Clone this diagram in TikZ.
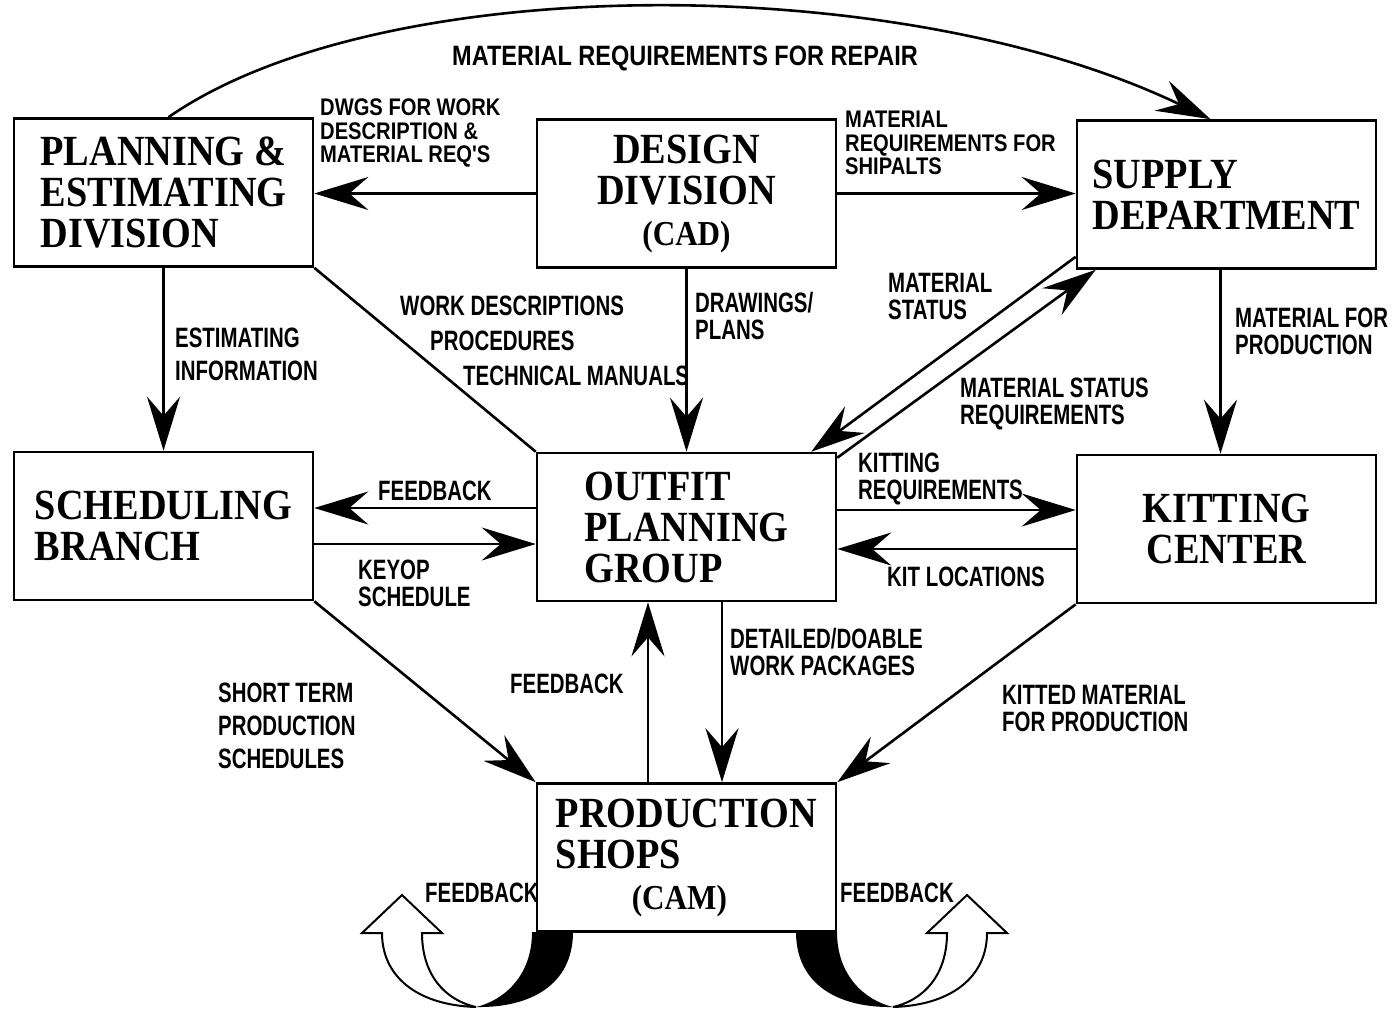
\documentclass[tikz,border=0pt]{standalone}
\usepackage{fontspec}
\usepackage{tikz}
\usetikzlibrary{arrows.meta}
\newfontfamily\cajafont[FakeStretch=0.89]{Liberation Serif}
\newfontfamily\rotulofont[FakeStretch=0.73]{Liberation Sans}
\newfontfamily\anchofont[FakeStretch=0.84]{Liberation Sans}
\newfontfamily\repairfont[FakeStretch=0.84]{Liberation Sans}
\definecolor{tinta}{RGB}{0, 0, 0}
\tikzset{
	caja/.style={draw=tinta, line width=2.6pt, minimum width=299pt, minimum height=148pt, inner sep=0pt, text=tinta, font=\cajafont\bfseries\fontsize{43}{41}\selectfont},
	rotulo/.style={inner sep=0pt, anchor=north west, align=left, text=tinta, font=\rotulofont\bfseries\fontsize{28}{27}\selectfont},
	chico/.style={font=\anchofont\bfseries\fontsize{24}{23.5}\selectfont},
	flecha/.style={draw=tinta, line width=2.6pt, -{Stealth[length=54pt, width=33pt, inset=19pt]}},
	linea/.style={draw=tinta, line width=2.6pt}
}
\newcommand{\lazo}{%
	\fill[tinta] (573,932) .. controls (573,985) and (530,1008) .. (476,1007) .. controls (505,1000) and (532,975) .. (532,932) -- cycle;
	\filldraw[fill=white, draw=tinta, line width=2pt] (476,1007) .. controls (415,1005) and (382,975) .. (382,933) -- (362,933) -- (402,895) -- (442,933) -- (422,933) .. controls (422,975) and (445,1000) .. (476,1007) -- cycle;
}

\begin{document}
\begin{tikzpicture}[x=1pt, y=-1pt]
					\useasboundingbox (0,0) rectangle (1396,1012);
					% Cajas
					\node[caja, align=left] (planning) at (163.5,192.5) {PLANNING \&\\ESTIMATING\\DIVISION};
					\node[caja, align=center] (design) at (686.5,193.5) {DESIGN\\DIVISION\\{\fontsize{35}{36}\selectfont(CAD)}};
					\node[caja, align=left] (supply) at (1226.5,194.5) {SUPPLY\\DEPARTMENT};
					\node[caja, align=left] (scheduling) at (163.5,526) {SCHEDULING\\BRANCH};
					\node[caja, align=left] (outfit) at (686.5,527) {OUTFIT\\PLANNING\\GROUP};
					\node[caja, align=center] (kitting) at (1226.5,529) {KITTING\\CENTER};
					\node[caja, align=left] (production) at (686.5,857.5) {PRODUCTION\\SHOPS\\\hspace*{76pt}{\fontsize{35}{36}\selectfont(CAM)}};
					% Flechas
					\draw[flecha] ([xshift=5pt]planning.north) .. controls (380,-30) and (900,-30) .. ([xshift=-16pt]supply.north);
					\draw[flecha] (design.west) -- (design.west -| planning.east);
					\draw[flecha] (design.east) -- (design.east -| supply.west);
					\draw[flecha] (planning.south) -- (planning.south |- scheduling.north);
					\draw[linea] (planning.south east) -- (outfit.north west);
					\draw[flecha] (design.south) -- (design.south |- outfit.north);
					\draw[flecha] ([yshift=13pt]supply.south west) -- ([xshift=-26pt]outfit.north east);
					\draw[flecha] ([yshift=-6pt]outfit.north east) -- ([xshift=20pt]supply.south west);
					\draw[flecha] ([xshift=-6pt]supply.south) -- ([xshift=-6pt]supply.south |- kitting.north);
					\draw[flecha] ([yshift=19pt]outfit.west) -- ([yshift=19pt]outfit.west -| scheduling.east);
					\draw[flecha] ([yshift=-18pt]scheduling.east) -- ([yshift=-18pt]scheduling.east -| outfit.west);
					\draw[flecha] ([yshift=17pt]outfit.east) -- ([yshift=17pt]outfit.east -| kitting.west);
					\draw[flecha] ([yshift=-20pt]kitting.west) -- ([yshift=-20pt]kitting.west -| outfit.east);
					\draw[flecha] (scheduling.south east) -- (production.north west);
					\draw[flecha] ([xshift=-38.5pt]production.north) -- ([xshift=-38.5pt]outfit.south);
					\draw[flecha] ([xshift=35.5pt]outfit.south) -- ([xshift=35.5pt]production.north);
					\draw[flecha] (kitting.south west) -- (production.north east);
					% Lazos de retroalimentacion
					\lazo
					\begin{scope}[shift={(1369,0)}, xscale=-1]
						\lazo
					\end{scope}
					% Rotulos
					\node[rotulo, anchor=center, font=\repairfont\bfseries\fontsize{28}{27}\selectfont] (repair) at (685,58) {MATERIAL REQUIREMENTS FOR REPAIR};
					\node[rotulo, chico] (dwgs) at (320,99) {DWGS FOR WORK\\DESCRIPTION \&\\MATERIAL REQ'S};
					\node[rotulo, chico] (shipalts) at (845,111) {MATERIAL\\REQUIREMENTS FOR\\SHIPALTS};
					\node[rotulo] (estimating) at (175,328) {ESTIMATING\\[6pt]INFORMATION};
					\node[rotulo] (workdesc) at (400,296) {WORK DESCRIPTIONS\\[8pt]\hspace*{30pt}PROCEDURES\\[8pt]\hspace*{63pt}TECHNICAL MANUALS};
					\node[rotulo] (drawings) at (695,292) {DRAWINGS/\\PLANS};
					\node[rotulo] (matstatus) at (888,273) {MATERIAL\\STATUS};
					\node[rotulo] (matstatusreq) at (960,378) {MATERIAL STATUS\\REQUIREMENTS};
					\node[rotulo] (matprod) at (1235,308) {MATERIAL FOR\\PRODUCTION};
					\node[rotulo] (fbsched) at (378,481) {FEEDBACK};
					\node[rotulo] (keyop) at (358,560) {KEYOP\\SCHEDULE};
					\node[rotulo] (kitreq) at (858,453) {KITTING\\REQUIREMENTS};
					\node[rotulo] (kitloc) at (887,567) {KIT LOCATIONS};
					\node[rotulo] (shortterm) at (218,683) {SHORT TERM\\[6pt]PRODUCTION\\[6pt]SCHEDULES};
					\node[rotulo] (fbprod) at (510,674) {FEEDBACK};
					\node[rotulo] (detailed) at (730,628) {DETAILED/DOABLE\\WORK PACKAGES};
					\node[rotulo] (kitted) at (1002,685) {KITTED MATERIAL\\FOR PRODUCTION};
					\node[rotulo] (fbleft) at (425,883) {FEEDBACK};
					\node[rotulo] (fbright) at (840,883) {FEEDBACK};
				\end{tikzpicture}
\end{document}
